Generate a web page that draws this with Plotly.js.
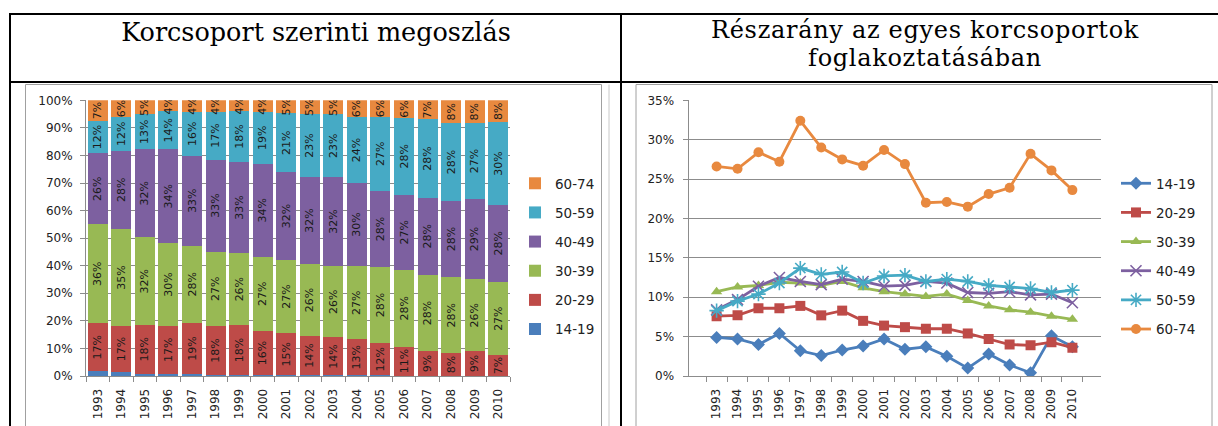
<!DOCTYPE html>
<html>
<head>
<meta charset="utf-8">
<script src="https://cdn.plot.ly/plotly-3.0.1.min.js"></script>
<style>
  html, body { margin: 0; padding: 0; background: #fff; }
  #wrap { position: relative; width: 1218px; height: 426px; }
  #chart { position: absolute; left: 0; top: 0; width: 1218px; height: 426px; }
  .ttl { position: absolute; font-family: 'DejaVu Serif', 'Liberation Serif', serif;
         color: #000; text-align: center; white-space: nowrap; }
  #t1 { font-size: 25.5px; line-height: 30px; }
  #t2 { font-size: 24px; line-height: 28px; letter-spacing: 0.7px; }
</style>
</head>
<body>
<div id="wrap">
  <div id="chart"></div>
  <div id="t1" class="ttl" style="left:14px; width:604px; top:17px;"></div>
  <div id="t2" class="ttl" style="left:624px; width:602px; top:16px;"></div>
</div>
<script>
// ---------- DATA ----------
const years = ['1993','1994','1995','1996','1997','1998','1999','2000','2001','2002','2003','2004','2005','2006','2007','2008','2009','2010'];
const groups = ['14-19','20-29','30-39','40-49','50-59','60-74'];

// Left chart: share of employed by age group (%)
const share_14_19 = [1.7,1.4,0.9,0.9,0.6,0.3,0.3,0.3,0.3,0.2,0.2,0.2,0.2,0.1,0.1,0.1,0.1,0.1];
const share_20_29 = [17.4,16.8,17.6,17.2,18.7,17.8,18.2,16.0,15.2,14.4,13.8,13.1,11.7,10.6,8.8,8.1,8.8,7.4];
const share_30_39 = [35.9,35.1,31.8,30.1,28.0,27.0,26.0,27.0,26.6,26.0,25.9,26.6,27.6,27.8,27.8,27.7,26.2,26.6];
const share_40_49 = [25.8,28.4,31.9,34.0,32.6,33.4,33.2,33.6,31.8,31.6,32.2,30.0,27.6,27.3,28.0,27.7,29.2,28.1];
const share_50_59 = [11.8,12.4,12.7,13.9,16.0,17.4,18.4,19.0,21.4,22.8,22.8,24.2,27.0,27.8,28.4,28.1,27.3,29.8];
const share_60_74 = [7.4,5.9,5.1,3.9,4.1,4.1,3.9,4.1,4.7,5.0,5.1,5.9,5.9,6.4,6.9,8.4,8.4,8.0];

// Right chart: share of each age group in employment (%)
const rate_14_19 = [4.9,4.7,4.0,5.4,3.2,2.6,3.3,3.8,4.7,3.4,3.7,2.5,1.0,2.8,1.4,0.4,5.1,3.7];
const rate_20_29 = [7.6,7.7,8.6,8.6,8.9,7.7,8.3,7.0,6.4,6.2,6.0,6.0,5.4,4.7,4.0,3.9,4.3,3.6];
const rate_30_39 = [10.7,11.3,11.5,11.9,11.8,11.5,12.0,11.2,10.7,10.4,10.1,10.4,9.6,8.9,8.4,8.1,7.6,7.2];
const rate_40_49 = [8.4,9.7,11.4,12.5,12.0,11.6,12.3,12.0,11.4,11.5,12.0,11.8,10.6,10.5,10.7,10.3,10.4,9.3];
const rate_50_59 = [8.3,9.5,10.4,11.8,13.7,12.9,13.2,11.8,12.7,12.8,12.0,12.3,12.0,11.5,11.3,11.1,10.6,10.9];
const rate_60_74 = [26.6,26.3,28.4,27.2,32.4,29.0,27.5,26.7,28.7,26.9,22.0,22.1,21.5,23.1,23.9,28.2,26.1,23.6];

const leftTitle = 'Korcsoport szerinti megoszlás';
const rightTitleLines = ['Részarány az egyes korcsoportok', 'foglakoztatásában'];

document.getElementById('t1').textContent = leftTitle;
const t2 = document.getElementById('t2');
rightTitleLines.forEach((s) => {
  const d = document.createElement('div');
  d.textContent = s;
  t2.appendChild(d);
});

// ---------- STYLE ----------
const colors = ['#4A7EBB','#BE4B48','#98B954','#7D60A0','#46AAC5','#E8893F'];
const markerSyms = ['diamond','square','triangle-up','x-thin-open','asterisk-open','circle'];
const markerSizes = [10,10,10,11,12,10];
const W = 1218, H = 426;
const px = v => v / W;
const py = v => (H - v) / H;
const tickFont = {family: 'DejaVu Sans, Verdana, sans-serif', size: 12, color: '#222'};
const legendFont = {family: 'DejaVu Sans, Verdana, sans-serif', size: 13.5, color: '#222'};

const shares = [share_14_19, share_20_29, share_30_39, share_40_49, share_50_59, share_60_74];
const rates = [rate_14_19, rate_20_29, rate_30_39, rate_40_49, rate_50_59, rate_60_74];

const traces = [];
shares.forEach((vals, i) => {
  traces.push({
    type: 'bar', x: years, y: vals, name: groups[i],
    xaxis: 'x', yaxis: 'y', legend: 'legend', legendgroup: 'b' + i,
    legendrank: 100 - i,
    marker: {color: colors[i], line: {width: 0}},
    texttemplate: i === 0 ? '' : '%{y:.0f}%',
    textposition: i === 0 ? 'none' : 'inside',
    insidetextanchor: 'middle',
    textangle: -90,
    constraintext: 'none',
    textfont: {family: 'DejaVu Sans, Verdana, sans-serif', size: 11, color: '#1a1a1a'},
    hoverinfo: 'skip'
  });
});
rates.forEach((vals, i) => {
  const open = markerSyms[i].indexOf('open') >= 0;
  traces.push({
    type: 'scatter', mode: 'lines+markers', x: years, y: vals, name: groups[i],
    xaxis: 'x2', yaxis: 'y2', legend: 'legend2', legendgroup: 'l' + i,
    legendrank: 10 + i,
    line: {color: colors[i], width: 2.8},
    marker: {symbol: markerSyms[i], size: markerSizes[i], color: colors[i],
             line: {color: colors[i], width: open ? 1.6 : 0}},
    hoverinfo: 'skip'
  });
});

const axisCommon = {
  showline: true, linecolor: '#8c8c8c', linewidth: 1,
  ticks: 'outside', ticklen: 5, tickcolor: '#8c8c8c', tickfont: tickFont,
  fixedrange: true, zeroline: false
};

const yDom = [py(376), py(100.3)];

const layout = {
  width: W, height: H,
  margin: {l: 0, r: 0, t: 0, b: 0},
  paper_bgcolor: 'rgba(0,0,0,0)', plot_bgcolor: 'rgba(0,0,0,0)',
  barmode: 'stack', barnorm: 'percent', bargap: 0.15,
  showlegend: true,
  xaxis: Object.assign({}, axisCommon, {
    domain: [px(86), px(510)], type: 'category', tickson: 'boundaries',
    tickangle: -90, showgrid: false, anchor: 'y', ticklabelstandoff: 7
  }),
  yaxis: Object.assign({}, axisCommon, {
    domain: yDom, range: [0, 100], dtick: 10, ticksuffix: '%',
    showgrid: true, gridcolor: '#8c8c8c', gridwidth: 1, anchor: 'x',
    ticklabelstandoff: 5
  }),
  xaxis2: Object.assign({}, axisCommon, {
    domain: [px(688.5), px(1100.5)], type: 'category', tickson: 'boundaries',
    tickangle: -90, showgrid: false, anchor: 'y2', ticklabelstandoff: 7
  }),
  yaxis2: Object.assign({}, axisCommon, {
    domain: yDom, range: [0, 35], dtick: 5, ticksuffix: '%',
    showgrid: true, gridcolor: '#8c8c8c', gridwidth: 1, anchor: 'x2',
    ticklabelstandoff: 6
  }),
  legend: {
    x: px(515), y: py(168), xanchor: 'left', yanchor: 'top',
    traceorder: 'grouped', tracegroupgap: 8.6,
    font: legendFont, bgcolor: 'rgba(0,0,0,0)', itemwidth: 30,
    itemclick: false, itemdoubleclick: false
  },
  legend2: {
    x: px(1116), y: py(168), xanchor: 'left', yanchor: 'top',
    traceorder: 'grouped', tracegroupgap: 8.6,
    font: legendFont, bgcolor: 'rgba(0,0,0,0)', itemwidth: 30,
    itemclick: false, itemdoubleclick: false
  },
  shapes: [
    // table borders
    {type: 'line', xref: 'paper', yref: 'paper', x0: px(9), x1: px(1230), y0: py(14), y1: py(14), line: {color: '#000', width: 2}},
    {type: 'line', xref: 'paper', yref: 'paper', x0: px(9), x1: px(1230), y0: py(82), y1: py(82), line: {color: '#000', width: 2}},
    {type: 'line', xref: 'paper', yref: 'paper', x0: px(10), x1: px(10), y0: py(13), y1: py(440), line: {color: '#000', width: 2}},
    {type: 'line', xref: 'paper', yref: 'paper', x0: px(621), x1: px(621), y0: py(13), y1: py(440), line: {color: '#000', width: 2}},
    // chart frames
    {type: 'rect', xref: 'paper', yref: 'paper', x0: px(25.5), x1: px(601.5), y0: py(84.5), y1: py(440), line: {color: '#a0a0a0', width: 1}},
    {type: 'line', xref: 'paper', yref: 'paper', x0: px(609), x1: px(609), y0: py(84.5), y1: py(440), line: {color: '#c8c8c8', width: 1}},
    {type: 'rect', xref: 'paper', yref: 'paper', x0: px(636), x1: px(1212), y0: py(84.5), y1: py(440), line: {color: '#a0a0a0', width: 1}}
  ]
};

Plotly.newPlot('chart', traces, layout, {displayModeBar: false, staticPlot: true});
</script>
</body>
</html>
